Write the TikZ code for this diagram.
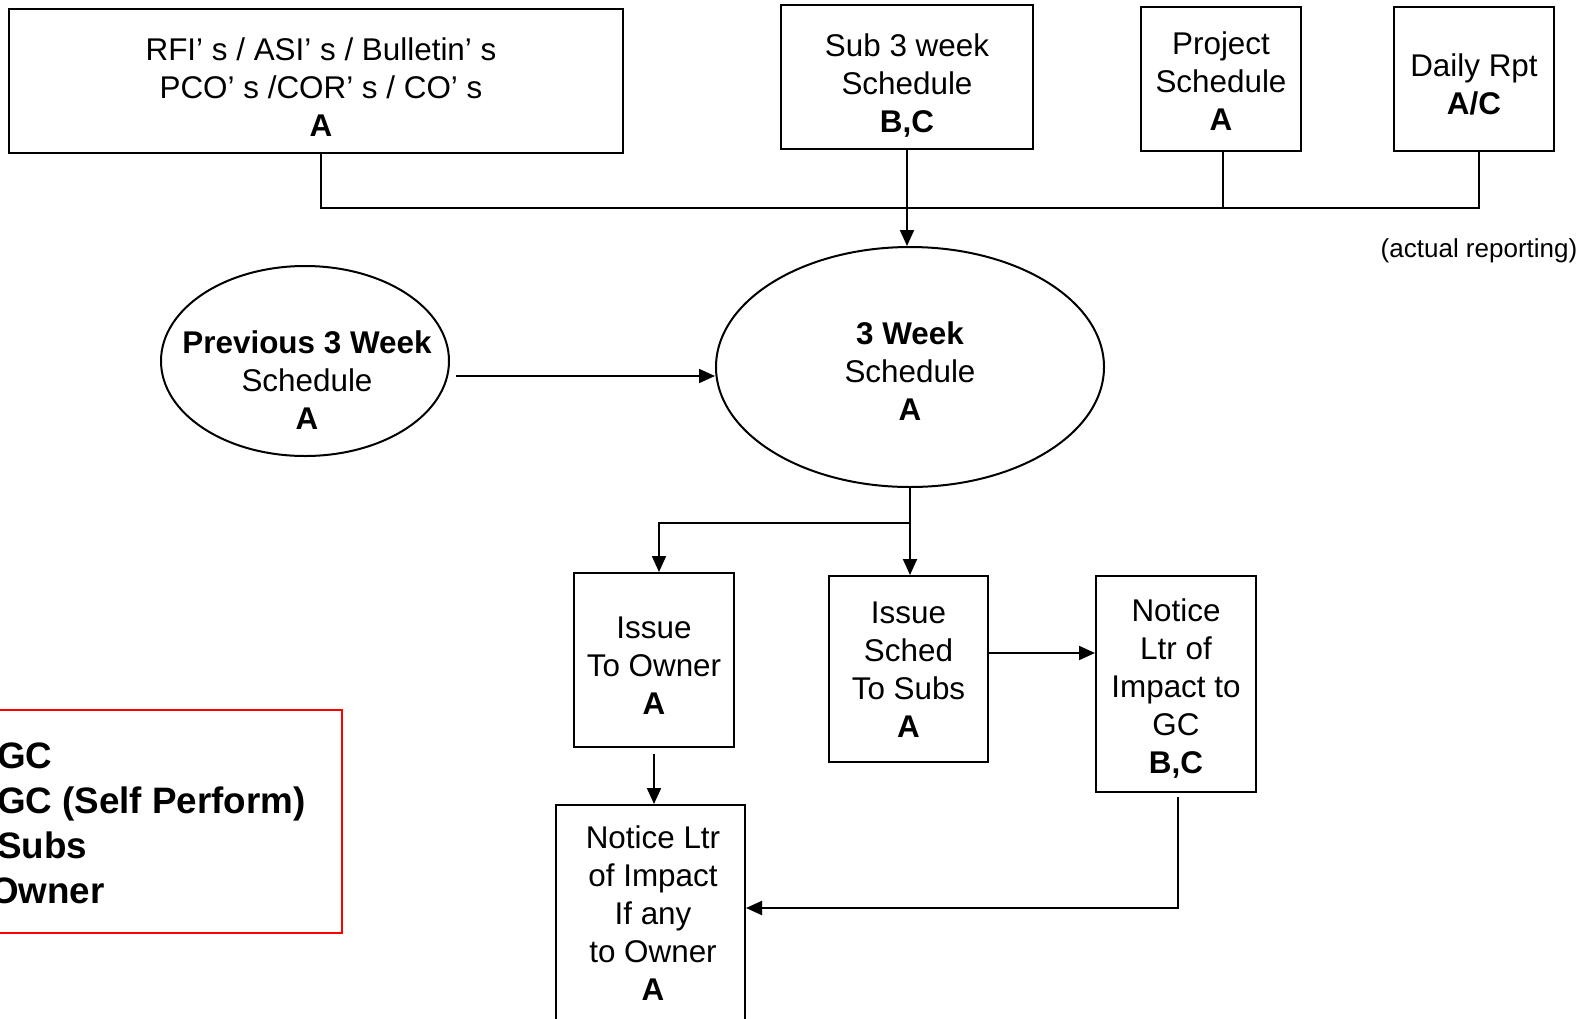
\documentclass[tikz,border=0pt]{standalone}
\usepackage{fontspec}
\setmainfont{Liberation Sans}
\usetikzlibrary{shapes.geometric,arrows.meta}
\begin{document}
\begin{tikzpicture}[x=0.5pt,y=-0.5pt,
  line width=1pt,
  box/.style={draw, rectangle, inner sep=2pt},
  oval/.style={draw, ellipse, inner sep=0pt},
  arr/.style={-{Triangle[length=8pt,width=7pt]}},
  lbl/.style={align=center, inner sep=0pt, font=\fontsize{15.7}{19}\selectfont}]
\useasboundingbox (0,0) rectangle (1596,1018);
\fill[white] (0,0) rectangle (1596,1018);
\clip (0,0) rectangle (1596,1018);

% top boxes
\node[box, minimum width=307pt, minimum height=72pt,
  label={[lbl, xshift=2.5pt, yshift=-3pt]center:RFI’ s / ASI’ s / Bulletin’ s\\PCO’ s /COR’ s / CO’ s\\\textbf{A}}] (rfi) at (316,81) {};
\node[box, minimum width=126pt, minimum height=72pt,
  label={[lbl, yshift=-4.5pt]center:Sub 3 week\\Schedule\\\textbf{B,C}}] (sub3) at (907,77) {};
\node[box, minimum width=80pt, minimum height=72pt,
  label={[lbl, yshift=-1pt]center:Project\\Schedule\\\textbf{A}}] (proj) at (1221,79) {};
\node[box, minimum width=80pt, minimum height=72pt,
  label={[lbl, yshift=-2.5pt]center:Daily Rpt\\\textbf{A/C}}] (daily) at (1474,79) {};
\node[lbl, font=\fontsize{13}{16}\selectfont] (note) at (1479,251) {(actual reporting)};

% ellipses
\node[oval, minimum width=144pt, minimum height=95pt,
  label={[lbl, xshift=1pt, yshift=-9.5pt]center:\textbf{Previous 3 Week}\\Schedule\\\textbf{A}}] (prev) at (305,361) {};
\node[oval, minimum width=194pt, minimum height=120pt,
  label={[lbl, yshift=-2pt]center:\textbf{3 Week}\\Schedule\\\textbf{A}}] (main) at (910,367) {};

% lower boxes
\node[box, minimum width=80pt, minimum height=87pt,
  label={[lbl, yshift=-2.75pt]center:Issue\\To Owner\\\textbf{A}}] (own) at (654,660) {};
\node[box, minimum width=79.5pt, minimum height=93pt,
  label={[lbl, yshift=-0.5pt]center:Issue\\Sched\\To Subs\\\textbf{A}}] (subs) at (908.5,669) {};
\node[box, minimum width=80pt, minimum height=108pt,
  label={[lbl, yshift=-2.25pt]center:Notice\\Ltr of\\Impact to\\GC\\\textbf{B,C}}] (gcn) at (1176,684) {};
\node[box, minimum width=94.5pt, minimum height=108pt,
  label={[lbl, xshift=1.25pt]center:Notice Ltr\\of Impact\\If any\\to Owner\\\textbf{A}}] (own2) at (650.5,913) {};

% legend
\node[draw=red, minimum width=176pt, minimum height=111.5pt] (leg) at (166,821.5) {};
\node[anchor=west, align=left, inner sep=0pt, font=\fontsize{18.4}{22.5}\selectfont\bfseries] (legtxt) at (-4,823) {GC\\GC (Self Perform)\\Subs\\\hspace*{-3.5pt}Owner};

% connectors
\coordinate (bus) at (0,208);
\coordinate (split) at (0,523);
\draw ([xshift=2.5pt]rfi.south) -- ([xshift=2.5pt]rfi.south |- bus) -- ([xshift=2.5pt]daily.south |- bus) -- ([xshift=2.5pt]daily.south);
\draw ([xshift=1pt]proj.south) -- ([xshift=1pt]proj.south |- bus);
\draw[arr] (sub3.south) -- (sub3.south |- main.north);
\draw[arr] ([xshift=3pt,yshift=-4.5pt]prev.east |- main.center) -- ([yshift=-4.5pt]main.west);
\draw[arr] (main.south) -- (main.south |- subs.north);
\draw[arr] (main.south |- split) -- ([xshift=2.5pt]own.north |- split) -- ([xshift=2.5pt]own.north);
\draw[arr] ([yshift=8pt]subs.east) -- ([yshift=8pt]subs.east -| gcn.west);
\draw[arr] ([yshift=-3pt]own.south) -- (own.south |- own2.north);
\draw[arr] ([xshift=1pt,yshift=-2pt]gcn.south) |- ([yshift=2.5pt]own2.east);
\end{tikzpicture}
\end{document}
